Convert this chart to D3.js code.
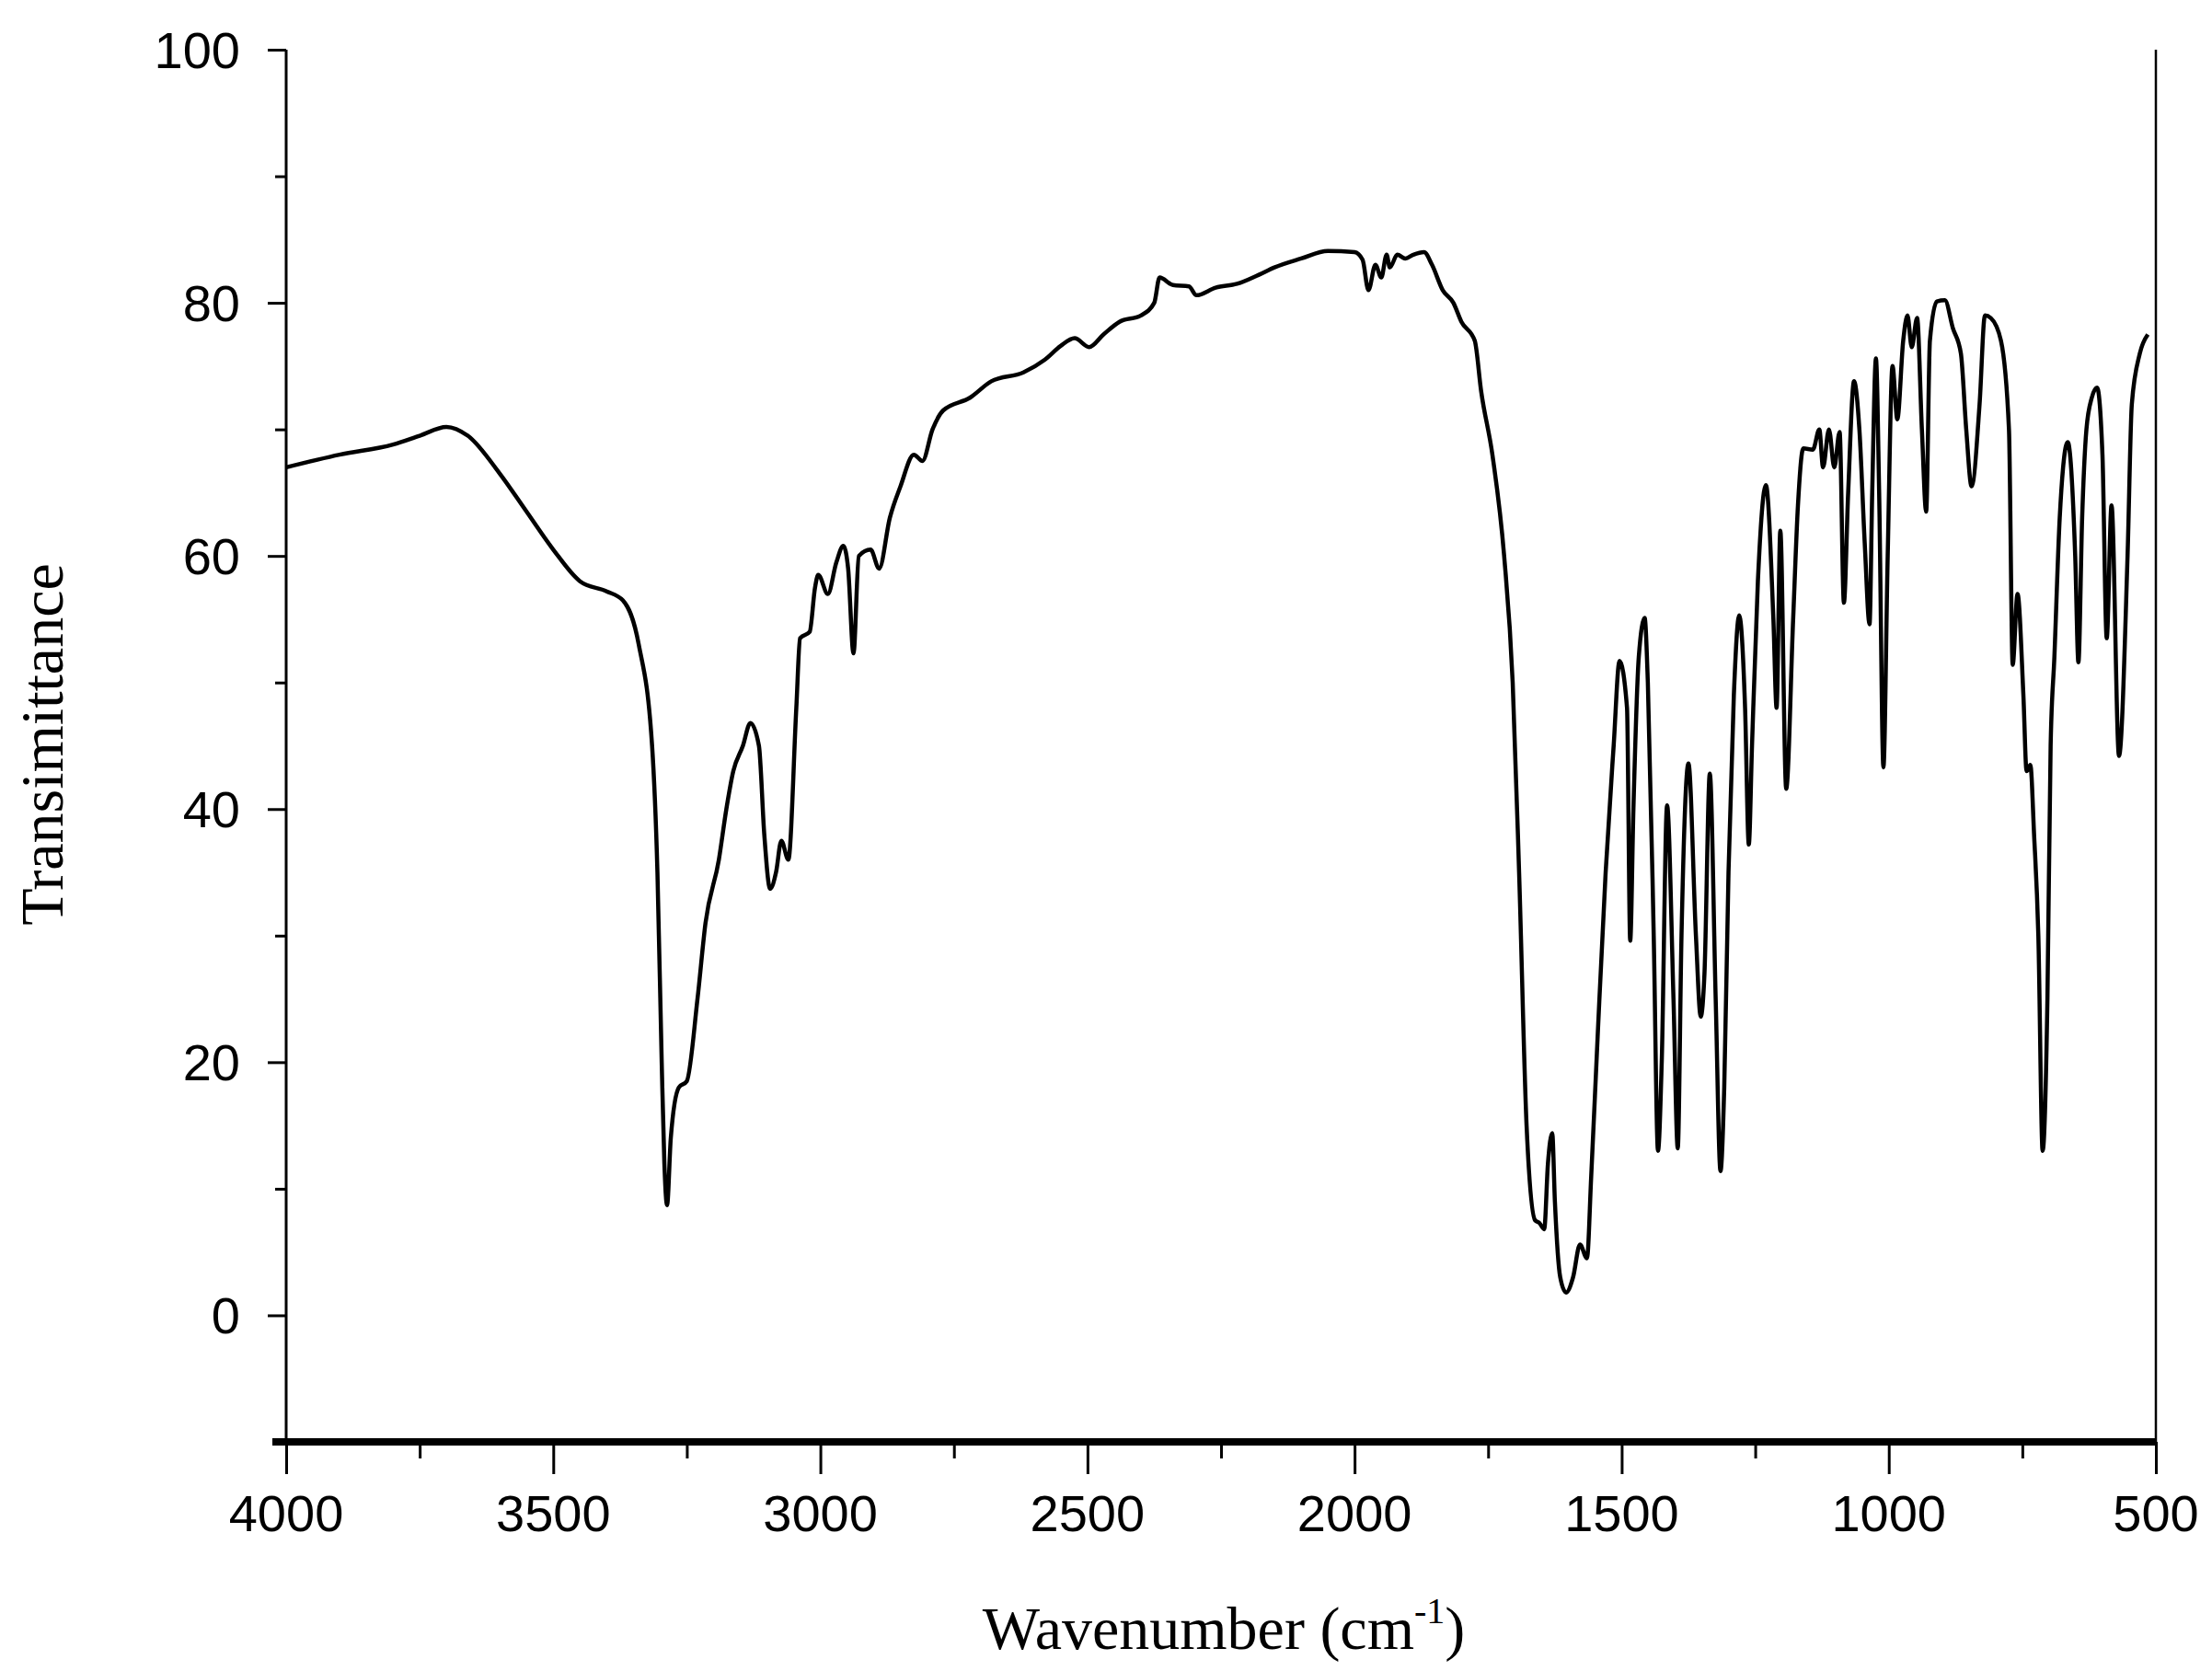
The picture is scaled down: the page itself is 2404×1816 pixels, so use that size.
<!DOCTYPE html>
<html><head><meta charset="utf-8">
<script src="https://cdn.jsdelivr.net/npm/d3@7"></script>
<style>body{margin:0;background:#fff}</style></head>
<body><svg id="c" width="2404" height="1816"></svg>
<script>
const wavenumber=[4000,3900,3800,3750,3700,3660,3600,3550,3500,3450,3400,3370,3340,3315,3305,3297,3292,3287,3280,3265,3250,3230,3215,3190,3176,3163,3145,3131,3115,3105,3094,3083,3073,3060,3045,3038,3020,3010,3004,2986,2970,2957,2948,2938,2928,2906,2890,2870,2850,2825,2809,2790,2770,2720,2680,2620,2580,2550,2524,2497,2470,2440,2400,2375,2365,2340,2310,2296,2260,2220,2180,2150,2100,2050,
2000,1985,1974,1961,1950,1940,1934,1920,1905,1890,
1870,1855,1835,1815,1800,1775,1763,1742,1720,1704,
1692,1678,1662,1654,1645,1638,1630,1625,1615,1604,
1591,1578,1565,1557,1545,1530,1515,1504,1490,1484,
1478,1468,1457,1451,1440,1432,1425,1415,1403,1395,
1388,1375,1361,1352,1345,1335,1324,1315,1308,1300,
1290,1280,1269,1262,1256,1245,1230,1216,1210,1203,
1192,1179,1170,1160,1142,1130,1123,1112,1102,1092,
1084,1076,1065,1055,1045,1036,1031,1024,1018,1010,
1002,993,984,973,965,957,947,938,930,923,
910,895,880,865,855,845,830,820,809,790,
775,768,759,748,742,735,728,720,712,703,
697,690,680,665,651,645,638,630,620,610,
600,592,583,569,553,545,530,515,500];
const transmittance=[67,68,68.8,69.5,70.2,69.5,66.5,63.5,60.5,58,57.2,56.5,53,45,35,20,12,8.7,14,18,18.5,25,31,36,40,43,45,46.8,45,38,33.7,35,37.5,36,48,53.5,54,57.5,58.5,57,59.5,60.8,59,52.3,60,60.5,59,63,65.5,68,67.5,70,71.5,72.5,73.8,74.5,75.5,76.6,77.2,76.5,77.5,78.5,79,80,82,81.4,81.3,80.6,81.2,81.5,82.2,82.8,83.5,
84.1,84.0,83.4,81,83,82,83.8,82.8,83.8,83.5,
83.8,84,83,81,80,78.5,77,73,68,60,
50,35,15,7.5,7.3,6.8,12,14.4,9,3,
1.8,3,5.6,4.5,11,22,35,45,51.7,48,
29.6,40,52,55.1,50,30,13,20,40.3,25,
13.2,30,43.6,30,23.6,27,42.8,25,11.4,18,
35,49,55.3,48,37.2,45,58,65.6,55,48,
62,41.6,55,64,68.5,68.4,70,67,70,67,
69.8,56.3,65,73.8,70,61,54.6,65,75.6,65,
43.3,60,75,70.8,77,79,76.5,78.8,70,63.5,
77,80.1,80.2,78,76,70,65.5,72,79,78.8,
77,70,51.4,57,49,43,43.5,38,30,13,
25,45,52,63,69,60,51.6,63,70,72.5,
73.3,68,53.5,64,44.2,60,72,76,77.5];
const xTicks=[4000,3500,3000,2500,2000,1500,1000,500];
const yTicks=[0,20,40,60,80,100];

const svg=d3.select("#c");
const L=311,R=2343,T=54,B=1567;
const x=d3.scaleLinear().domain([4000,500]).range([L,R]);
const y=d3.scaleLinear().domain([-10,100]).range([B,T]);

svg.append("line").attr("x1",R).attr("x2",R).attr("y1",T).attr("y2",B).attr("stroke","#000").attr("stroke-width",2.5);

const gx=svg.append("g").attr("transform",`translate(0,${B})`);
gx.call(d3.axisBottom(x).tickValues(d3.range(4000,499,-250)).tickSize(18).tickFormat(""));
gx.call(g=>g.select(".domain").remove());
gx.selectAll(".tick line").attr("stroke-width",3);
gx.selectAll(".tick").filter(d=>d%500===0).select("line").attr("y2",35);
xTicks.forEach(v=>gx.append("text").attr("x",x(v)).attr("y",97).attr("fill","#000").attr("text-anchor","middle").attr("font-family","Liberation Sans, Arial").attr("font-size",56).text(v));
svg.append("line").attr("x1",L-15).attr("x2",R).attr("y1",B).attr("y2",B).attr("stroke","#000").attr("stroke-width",8);

const gy=svg.append("g").attr("transform",`translate(${L},0)`);
gy.call(d3.axisLeft(y).tickValues(d3.range(-10,101,10)).tickSize(12).tickFormat(""));
gy.call(g=>g.select(".domain").attr("stroke-width",3).attr("d",`M0,${T}V${B}`));
gy.selectAll(".tick line").attr("stroke-width",3);
gy.selectAll(".tick").filter(d=>d%20===0).select("line").attr("x2",-20);
yTicks.forEach(v=>gy.append("text").attr("x",-50).attr("y",y(v)+20).attr("fill","#000").attr("text-anchor","end").attr("font-family","Liberation Sans, Arial").attr("font-size",56).text(v));

const n=Math.min(wavenumber.length,transmittance.length);
const line=d3.line().x((d,i)=>x(wavenumber[i])).y(d=>y(d)).curve(d3.curveMonotoneX);
svg.append("path").datum(transmittance.slice(0,n)).attr("d",line).attr("fill","none").attr("stroke","#000").attr("stroke-width",4.5).attr("stroke-linejoin","round");

const xl=svg.append("text").attr("x",1330).attr("y",1792).attr("text-anchor","middle").attr("font-family","Liberation Serif, Times New Roman").attr("font-size",66);
xl.append("tspan").text("Wavenumber (cm");
xl.append("tspan").attr("font-size",40).attr("dy",-28).text("-1");
xl.append("tspan").attr("dy",28).text(")");
svg.append("text").attr("transform","translate(68,809) rotate(-90)").attr("text-anchor","middle").attr("font-family","Liberation Serif, Times New Roman").attr("font-size",66).text("Transimittance");
</script></body></html>
